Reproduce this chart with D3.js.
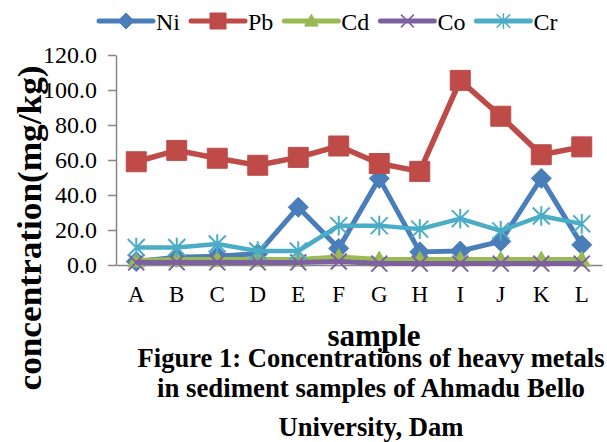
<!DOCTYPE html>
<html>
<head>
<meta charset="utf-8">
<script src="https://cdn.jsdelivr.net/npm/d3@7"></script>
<style>
  body { margin: 0; background: #fff; }
  svg { display: block; }
</style>
</head>
<body>
<div id="chart"></div>
<script>
// data
var samples = ["A", "B", "C", "D", "E", "F", "G", "H", "I", "J", "K", "L"];
var ni = [2, 4.5, 5, 6.5, 33, 9.5, 49.5, 7.5, 8, 13.5, 49.5, 11.5];
var pb = [59, 65.5, 61, 57, 61.5, 68, 58, 53.5, 105.5, 85, 63, 67.5];
var cd = [2.5, 3, 3, 3, 3, 4.5, 3, 3, 3, 3, 3, 3];
var co = [1.5, 1.5, 1.5, 1.5, 1.5, 2, 0.8, 0.8, 0.8, 0.8, 0.8, 0.8];
var cr = [10, 10, 12, 8, 8, 22.5, 22.5, 20.5, 26.5, 19.5, 28, 23.5];
var seriesNames = ["Ni", "Pb", "Cd", "Co", "Cr"];
var yTicks = [0, 20, 40, 60, 80, 100, 120];
var captionLines = ["Figure 1: Concentrations of heavy metals",
                    "in sediment samples of Ahmadu Bello",
                    "University, Dam"];

var width = 607, height = 442;
var plot = {left: 116, right: 602, top: 55, bottom: 265};
var serif = "'Liberation Serif', 'Times New Roman', serif";

// custom marker shapes (size = half width in px)
var crossX = {draw: function (ctx, s) {
  ctx.moveTo(-s, -s); ctx.lineTo(s, s);
  ctx.moveTo(-s, s); ctx.lineTo(s, -s);
}};
var star = {draw: function (ctx, s) {
  ctx.moveTo(-s, -s); ctx.lineTo(s, s);
  ctx.moveTo(-s, s); ctx.lineTo(s, -s);
  ctx.moveTo(0, -s * 1.15); ctx.lineTo(0, s * 1.15);
}};
var diamond = {draw: function (ctx, s) {
  ctx.moveTo(0, -s); ctx.lineTo(s, 0); ctx.lineTo(0, s); ctx.lineTo(-s, 0); ctx.closePath();
}};
var square = {draw: function (ctx, s) {
  ctx.rect(-s, -s, 2 * s, 2 * s);
}};
var triangle = {draw: function (ctx, s) {
  ctx.moveTo(0, -s); ctx.lineTo(s, s * 0.75); ctx.lineTo(-s, s * 0.75); ctx.closePath();
}};

var series = [
  {name: "Ni", values: ni, color: "#4a7ebb", shape: diamond, size: 10, filled: true, lw: 5},
  {name: "Pb", values: pb, color: "#be4b48", shape: square, size: 10, filled: true, lw: 5.5},
  {name: "Cd", values: cd, color: "#98b954", shape: triangle, size: 8.5, filled: true, lw: 5.5},
  {name: "Co", values: co, color: "#7d60a0", shape: crossX, size: 8, filled: false, lw: 5},
  {name: "Cr", values: cr, color: "#4bacc6", shape: star, size: 8.5, filled: false, lw: 4.5}
];

var svg = d3.select("#chart")
  .append("svg")
  .attr("width", width)
  .attr("height", height)
  .style("font-family", serif);

var x = d3.scaleBand().domain(samples).range([plot.left, plot.right]);
var y = d3.scaleLinear().domain([0, 120]).range([plot.bottom, plot.top]);

// y axis
var yAxis = svg.append("g")
  .attr("transform", "translate(" + plot.left + ",0)")
  .call(d3.axisLeft(y).tickValues(yTicks).tickSize(8).tickSizeOuter(0)
        .tickPadding(11).tickFormat(d3.format(".1f")));
yAxis.attr("font-family", null);
yAxis.selectAll("path, line").attr("stroke", "#868686").attr("stroke-width", 1.5);
yAxis.selectAll("text")
  .style("font-family", serif)
  .style("font-size", "24px")
  .attr("fill", "#000");

// x axis
var xAxis = svg.append("g")
  .attr("transform", "translate(0," + plot.bottom + ")")
  .call(d3.axisBottom(x).tickSize(0).tickSizeOuter(0));
xAxis.attr("font-family", null);
xAxis.select(".domain").attr("stroke", "#868686").attr("stroke-width", 1.5);
xAxis.selectAll("text")
  .attr("y", 37)
  .attr("dy", null)
  .style("font-family", serif)
  .style("font-size", "23px")
  .attr("fill", "#000");

// lines and markers
var line = d3.line()
  .x(function (d, i) { return x(samples[i]) + x.bandwidth() / 2; })
  .y(function (d) { return y(d); });

series.forEach(function (s) {
  var g = svg.append("g");
  g.append("path")
    .attr("d", line(s.values))
    .attr("fill", "none")
    .attr("stroke", s.color)
    .attr("stroke-width", s.lw)
    .attr("stroke-linejoin", "round");
  g.selectAll("path.mark")
    .data(s.values)
    .enter()
    .append("path")
    .attr("class", "mark")
    .attr("transform", function (d, i) {
      return "translate(" + (x(samples[i]) + x.bandwidth() / 2) + "," + y(d) + ")";
    })
    .attr("d", d3.symbol().type(s.shape).size(s.size))
    .attr("fill", s.filled ? s.color : "none")
    .attr("stroke", s.color)
    .attr("stroke-width", s.filled ? 1 : 2);
});

// legend
var lx = 99;
series.forEach(function (s) {
  var g = svg.append("g");
  g.append("line")
    .attr("x1", lx).attr("x2", lx + 54)
    .attr("y1", 21).attr("y2", 21)
    .attr("stroke", s.color)
    .attr("stroke-width", 5)
    .attr("stroke-linecap", "round");
  g.append("path")
    .attr("transform", "translate(" + (lx + 27) + ",21)")
    .attr("d", d3.symbol().type(s.shape).size(s.size * 0.8))
    .attr("fill", s.filled ? s.color : "none")
    .attr("stroke", s.color)
    .attr("stroke-width", s.filled ? 1 : 1.5);
  var t = g.append("text")
    .attr("x", lx + 57)
    .attr("y", 30)
    .style("font-size", "24px")
    .text(s.name);
  lx = lx + 57 + t.node().getComputedTextLength() + 11;
});

// axis titles
svg.append("text")
  .attr("transform", "translate(41,228) rotate(-90)")
  .attr("text-anchor", "middle")
  .attr("textLength", 325)
  .attr("lengthAdjust", "spacingAndGlyphs")
  .style("font-size", "34px")
  .style("font-weight", "bold")
  .text("concentration(mg/kg)");

svg.append("text")
  .attr("x", 374)
  .attr("y", 346)
  .attr("text-anchor", "middle")
  .style("font-size", "31px")
  .style("font-weight", "bold")
  .text("sample");

// caption
var capY = [367, 397, 436];
var capW = [467, 428, 185];
captionLines.forEach(function (c, i) {
  svg.append("text")
    .attr("x", 371)
    .attr("y", capY[i])
    .attr("text-anchor", "middle")
    .attr("textLength", capW[i])
    .attr("lengthAdjust", "spacingAndGlyphs")
    .style("font-size", "27px")
    .style("font-weight", "bold")
    .text(c);
});
</script>
</body>
</html>
